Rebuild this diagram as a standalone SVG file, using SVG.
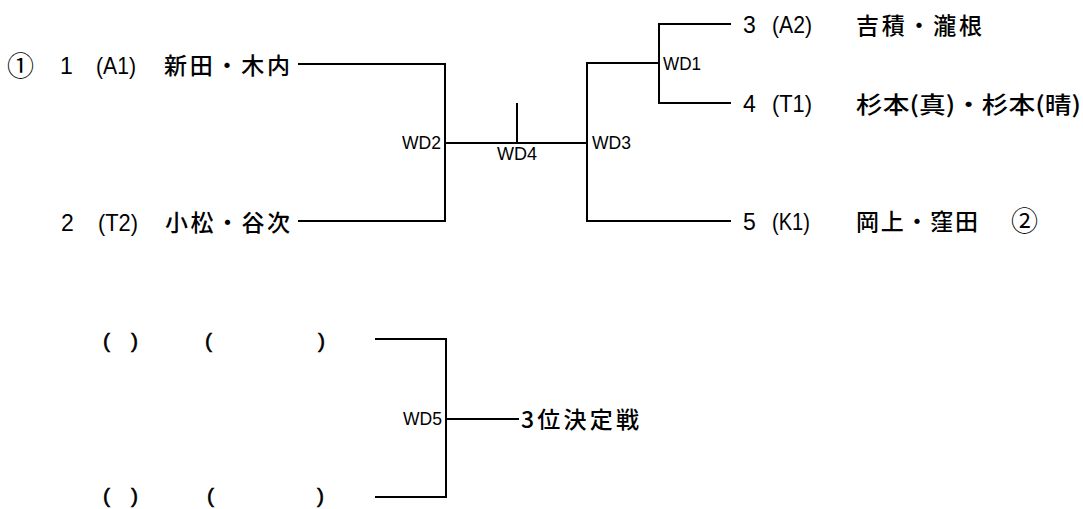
<svg xmlns="http://www.w3.org/2000/svg" width="1083" height="509" viewBox="0 0 1083 509">
<style>
.bg{fill:#ffffff}
.ln{fill:none;stroke:#000;stroke-width:2;stroke-linejoin:miter}
.t{font-family:"Liberation Sans","Noto Sans CJK JP",sans-serif;font-size:23px;fill:#000}
.j{font-family:"Noto Sans CJK JP","Liberation Sans",sans-serif;font-size:23px;font-weight:500;fill:#000}
.c{font-family:"Noto Sans CJK JP","Liberation Sans",sans-serif;font-size:27px;fill:#000}
.p{font-family:"Liberation Sans","Noto Sans CJK JP",sans-serif;font-size:24px;fill:#000}
.q{font-family:"Liberation Sans",sans-serif;font-size:21px;fill:#000;stroke:#000;stroke-width:0.6}
.wd{font-family:"Liberation Sans",sans-serif;font-size:18px;fill:#000}
.e{text-anchor:end}
.m{text-anchor:middle}
</style>
<rect class="bg" x="0" y="0" width="1083" height="509"/>
<g id="connectors">
<path class="ln" d="M298,64 H445 V221 H298"/>
<path class="ln" d="M445,143 H587"/>
<path class="ln" d="M517,103 V143"/>
<path class="ln" d="M659,63 H587 V221 H731"/>
<path class="ln" d="M731,24 H659 V103 H731"/>
<path class="ln" d="M375,339 H446 V497 H375"/>
<path class="ln" d="M446,419 H519"/>
</g>
<g id="entry1">
<text class="c" x="7" y="76">①</text>
<text class="t" x="60" y="74">1</text>
<text class="p" x="96" y="74" textLength="40" lengthAdjust="spacingAndGlyphs">(A1)</text>
<text class="j" x="164" y="74" textLength="126" lengthAdjust="spacing">新田・木内</text>
</g>
<g id="entry2">
<text class="t" x="61" y="231">2</text>
<text class="p" x="98" y="231" textLength="40" lengthAdjust="spacingAndGlyphs">(T2)</text>
<text class="j" x="165" y="231" textLength="125" lengthAdjust="spacing">小松・谷次</text>
</g>
<g id="entry3">
<text class="t" x="743" y="33">3</text>
<text class="p" x="772" y="33" textLength="40" lengthAdjust="spacingAndGlyphs">(A2)</text>
<text class="j" x="856" y="34" textLength="126" lengthAdjust="spacing">吉積・瀧根</text>
</g>
<g id="entry4">
<text class="t" x="743" y="112">4</text>
<text class="p" x="772" y="112" textLength="40" lengthAdjust="spacingAndGlyphs">(T1)</text>
<text class="j" x="856" y="113" textLength="225" lengthAdjust="spacingAndGlyphs">杉本(真)・杉本(晴)</text>
</g>
<g id="entry5">
<text class="t" x="743" y="230">5</text>
<text class="p" x="772" y="230" textLength="38" lengthAdjust="spacingAndGlyphs">(K1)</text>
<text class="j" x="856" y="230" textLength="122" lengthAdjust="spacing">岡上・窪田</text>
<text class="c" x="1011" y="231">②</text>
</g>
<g id="WD1"><text class="wd" x="663" y="70" textLength="38" lengthAdjust="spacingAndGlyphs">WD1</text></g>
<g id="WD2"><text class="wd e" x="441" y="149" textLength="39" lengthAdjust="spacingAndGlyphs">WD2</text></g>
<g id="WD3"><text class="wd" x="592" y="149" textLength="39" lengthAdjust="spacingAndGlyphs">WD3</text></g>
<g id="WD4"><text class="wd m" x="517" y="160" textLength="40" lengthAdjust="spacingAndGlyphs">WD4</text></g>
<g id="WD5"><text class="wd e" x="442" y="425" textLength="39" lengthAdjust="spacingAndGlyphs">WD5</text></g>
<g id="entry6">
<text class="q" y="348"><tspan x="103">(</tspan><tspan x="131">)</tspan><tspan x="205">(</tspan><tspan x="318">)</tspan></text>
</g>
<g id="entry7">
<text class="q" y="503"><tspan x="103">(</tspan><tspan x="131">)</tspan><tspan x="207">(</tspan><tspan x="317">)</tspan></text>
</g>
<g id="third-place">
<text class="j" x="521" y="428" textLength="118" lengthAdjust="spacing">3位決定戦</text>
</g>
</svg>
